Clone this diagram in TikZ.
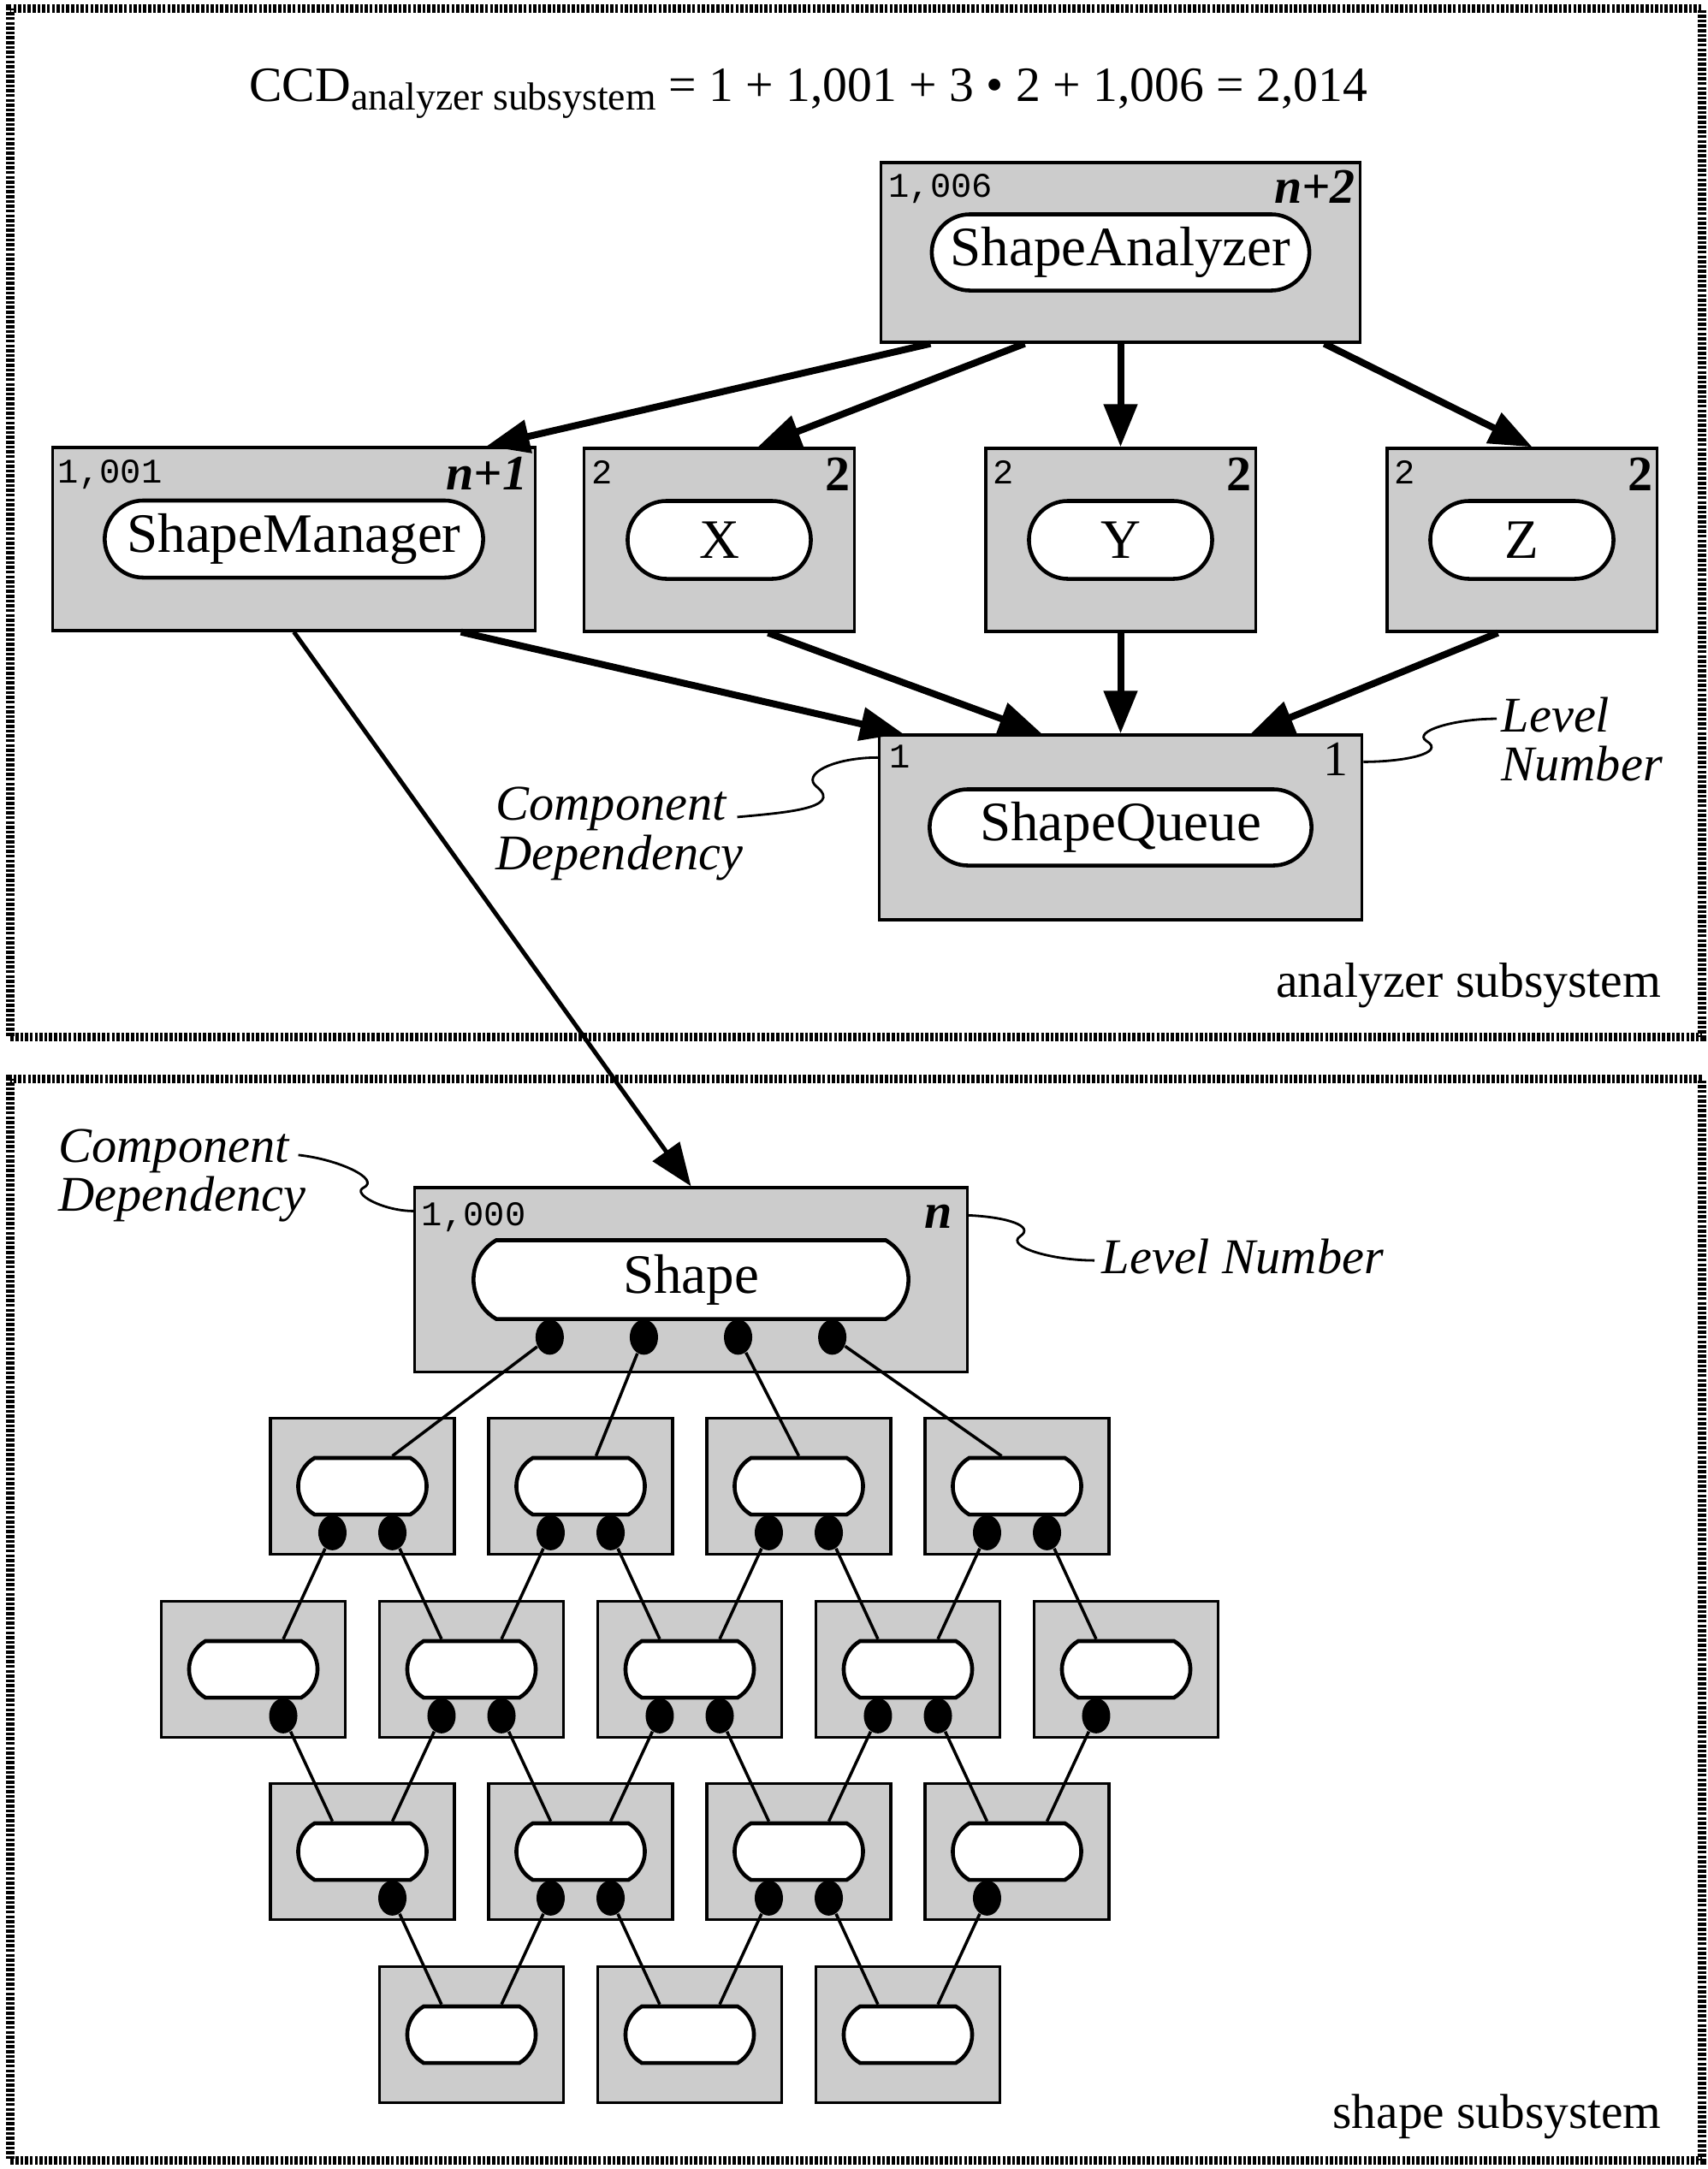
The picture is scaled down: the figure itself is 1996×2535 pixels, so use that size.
\documentclass[tikz,border=0pt]{standalone}
\usepackage{fontspec}
\setmainfont{Liberation Serif}
\setmonofont{Liberation Mono}
\usetikzlibrary{arrows.meta,shapes.misc,shapes.geometric}

\newcommand{\fsz}[1]{\fontsize{#1}{#1}\selectfont}

\begin{document}
\begin{tikzpicture}[x=0.01cm,y=-0.01cm,
  hatchframe/.style={draw,line width=0.1cm,dash pattern=on 1pt off 0.6pt,inner sep=0},
  cbox/.style={draw,line width=0.9pt,fill=black!20,inner sep=0},
  cpill/.style={draw,line width=1.3pt,fill=white,rounded rectangle,inner sep=0,font=\fsz{18.5}},
  minipill/.style={cpill,rounded rectangle arc length=120,minimum width=1.5cm,minimum height=0.66cm},
  cdot/.style={ellipse,fill=black,inner sep=0,minimum width=0.33cm,minimum height=0.41cm},
  deparrow/.style={-{Triangle[length=0.5cm,width=0.38cm]},line width=0.08cm},
  lattice/.style={line width=1pt},
  squiggle/.style={line width=0.8pt},
  ccdlbl/.style={font=\ttfamily\fsz{11.5},inner sep=0,anchor=north west},
  lvllbl/.style={font=\bfseries\itshape\fsz{16.5},inner sep=0,anchor=north east},
  notelbl/.style={font=\itshape\fsz{16.6},inner sep=0,anchor=base west}]

  \useasboundingbox (0,0) rectangle (1996,2535);

  % subsystem frames
  \node[hatchframe,minimum width=19.75cm,minimum height=12.02cm] (anlz) at (1000.5,611) {};
  \node[hatchframe,minimum width=19.75cm,minimum height=12.64cm] (shps) at (1000.5,1893) {};
  \node[font=\fsz{16.4},inner sep=0,anchor=base east] (anlzname) at (1942,1165) {analyzer subsystem};
  \node[font=\fsz{16.3},inner sep=0,anchor=base east] (shpsname) at (1942,2487) {shape subsystem};

  \node[font=\fsz{16.4},inner sep=0,anchor=base] (ccd) at (945,118)
    {CCD\raisebox{-3pt}{\fsz{13}analyzer subsystem} = 1 + 1,001 + 3 • 2 + 1,006 = 2,014};

  % analyzer subsystem
  \node[cbox,minimum width=5.6cm,minimum height=2.1cm] (sa) at (1309.5,295) {};
  \node[cpill,minimum width=4.41cm,minimum height=0.89cm] (sap) at (sa.center) {ShapeAnalyzer};
  \node[ccdlbl] (saccd) at ([xshift=0.1cm,yshift=-0.14cm]sa.north west) {1,006};
  \node[lvllbl] (salvl) at ([xshift=-0.07cm,yshift=-0.1cm]sa.north east) {n+2};

  \node[cbox,minimum width=5.63cm,minimum height=2.14cm] (sm) at (343.5,630) {};
  \node[cpill,minimum width=4.42cm,minimum height=0.9cm] (smp) at (sm.center) {ShapeManager};
  \node[ccdlbl] (smccd) at ([xshift=0.07cm,yshift=-0.15cm]sm.north west) {1,001};
  \node[lvllbl] (smlvl) at ([xshift=-0.1cm,yshift=-0.12cm]sm.north east) {n+1};

  \foreach \nm/\x/\txt in {cx/840.5/X,cy/1309.5/Y,cz/1778.5/Z}{
    \node[cbox,minimum width=3.15cm,minimum height=2.14cm] (\nm) at (\x,631) {};
    \node[cpill,minimum width=2.14cm,minimum height=0.91cm] (\nm p) at (\nm.center) {\txt};
    \node[ccdlbl] (\nm ccd) at ([xshift=0.09cm,yshift=-0.15cm]\nm.north west) {2};
    \node[lvllbl,font=\bfseries\fsz{16.5}] (\nm lvl) at ([xshift=-0.05cm,yshift=-0.12cm]\nm.north east) {2};
  }

  \node[cbox,minimum width=5.64cm,minimum height=2.16cm] (sq) at (1309.5,967) {};
  \node[cpill,minimum width=4.46cm,minimum height=0.89cm] (sqp) at (sq.center) {ShapeQueue};
  \node[ccdlbl] (sqccd) at ([xshift=0.13cm,yshift=-0.13cm]sq.north west) {1};
  \node[lvllbl,font=\fsz{16.5}] (sqlvl) at ([xshift=-0.17cm,yshift=-0.1cm]sq.north east) {1};

  \draw[deparrow] ([xshift=-2.22cm]sa.south) -- ([xshift=2.25cm]sm.north);
  \draw[deparrow] ([xshift=-1.12cm]sa.south) -- ([xshift=0.45cm]cx.north);
  \draw[deparrow] (sa.south) -- (cy.north);
  \draw[deparrow] ([xshift=2.38cm]sa.south) -- ([xshift=0.12cm]cz.north);
  \draw[deparrow] ([xshift=1.95cm]sm.south) -- ([xshift=-2.54cm]sq.north);
  \draw[deparrow] ([xshift=0.57cm]cx.south) -- ([xshift=-0.92cm]sq.north);
  \draw[deparrow] (cy.south) -- (sq.north);
  \draw[deparrow] ([xshift=-0.28cm]cz.south) -- ([xshift=1.52cm]sq.north);

  \node[notelbl] (cdq1) at (579,958) {Component};
  \node[notelbl] (cdq2) at (579,1016) {Dependency};
  \coordinate (cdqk) at (955,920);
  \draw[squiggle] ([xshift=0.12cm,yshift=-0.1cm]cdq1.east) .. controls +(54,-5) and +(30,25) .. (cdqk)
    .. controls +(-20,-15) and +(-52,0) .. ([yshift=-0.28cm]sq.north west);
  \node[notelbl] (lvq1) at (1754,855) {Level};
  \node[notelbl] (lvq2) at (1754,912) {Number};
  \coordinate (lvqk) at (1667,866);
  \draw[squiggle] ([yshift=-0.33cm]sq.north east) .. controls +(49,0) and +(23,14) .. (lvqk)
    .. controls +(-17,-11) and +(-50,0) .. ([xshift=-0.05cm,yshift=-0.05cm]lvq1.west);

  % shape subsystem
  \node[cbox,minimum width=6.45cm,minimum height=2.15cm] (shape) at (807.5,1495.5) {};
  \node[cpill,rounded rectangle arc length=120,minimum width=5.08cm,minimum height=0.92cm] (shapep) at (shape.center) {Shape};
  \node[ccdlbl] (shapeccd) at ([xshift=0.09cm,yshift=-0.18cm]shape.north west) {1,000};
  \node[lvllbl] (shapelvl) at ([xshift=-0.18cm,yshift=-0.21cm]shape.north east) {n};

  \draw[deparrow,line width=0.05cm] (sm.south) -- (shape.north);

  \node[notelbl] (cds1) at (68,1358) {Component};
  \node[notelbl] (cds2) at (68,1415) {Dependency};
  \coordinate (cdsk) at (425,1388);
  \draw[squiggle] ([xshift=0.1cm,yshift=-0.05cm]cds1.east) .. controls +(47,5) and +(20,-10) .. (cdsk)
    .. controls +(-15,7) and +(-35,0) .. ([yshift=-0.29cm]shape.north west);
  \node[notelbl] (lvs) at (1287,1488) {Level Number};
  \coordinate (lvsk) at (1192,1445);
  \draw[squiggle] ([yshift=-0.34cm]shape.north east) .. controls +(45,2) and +(18,-12) .. (lvsk)
    .. controls +(-17,12) and +(-50,0) .. ([xshift=-0.08cm,yshift=-0.05cm]lvs.west);

  \foreach \i in {1,...,4}{
    \node[cbox,minimum width=2.15cm,minimum height=1.59cm] (ba\i) at ({423.5+255*(\i-1)},1737) {};
    \node[minipill] (pa\i) at (ba\i.center) {};
    \node[cbox,minimum width=2.15cm,minimum height=1.59cm] (bc\i) at ({423.5+255*(\i-1)},2164) {};
    \node[minipill] (pc\i) at (bc\i.center) {};
  }
  \foreach \i in {1,...,5}{
    \node[cbox,minimum width=2.15cm,minimum height=1.59cm] (bb\i) at ({296+255*(\i-1)},1951) {};
    \node[minipill] (pb\i) at (bb\i.center) {};
  }
  \foreach \i in {1,...,3}{
    \node[cbox,minimum width=2.15cm,minimum height=1.59cm] (bd\i) at ({551+255*(\i-1)},2378) {};
    \node[minipill] (pd\i) at (bd\i.center) {};
  }

  % dots
  \foreach \i/\dx in {1/-1.65,2/-0.55,3/0.55,4/1.65}
    \node[cdot] (sd\i) at ([xshift=\dx cm,yshift=-0.19cm]shapep.south) {};
  \foreach \i in {1,...,4}{
    \node[cdot] (dal\i) at ([xshift=-0.35cm,yshift=-0.19cm]pa\i.south) {};
    \node[cdot] (dar\i) at ([xshift=0.35cm,yshift=-0.19cm]pa\i.south) {};
  }
  \foreach \i in {2,...,5}
    \node[cdot] (dbl\i) at ([xshift=-0.35cm,yshift=-0.19cm]pb\i.south) {};
  \foreach \i in {1,...,4}
    \node[cdot] (dbr\i) at ([xshift=0.35cm,yshift=-0.19cm]pb\i.south) {};
  \foreach \i in {2,...,4}
    \node[cdot] (dcl\i) at ([xshift=-0.35cm,yshift=-0.19cm]pc\i.south) {};
  \foreach \i in {1,...,3}
    \node[cdot] (dcr\i) at ([xshift=0.35cm,yshift=-0.19cm]pc\i.south) {};

  % uses
  \foreach \i/\dx in {1/0.35,2/0.18,3/0,4/-0.18}
    \draw[lattice] (sd\i) -- ([xshift=\dx cm]pa\i.north);
  \foreach \i in {1,...,4}{
    \pgfmathtruncatemacro{\j}{\i+1}
    \draw[lattice] (dal\i) -- ([xshift=0.35cm]pb\i.north);
    \draw[lattice] (dar\i) -- ([xshift=-0.35cm]pb\j.north);
  }
  \foreach \i in {1,...,4}
    \draw[lattice] (dbr\i) -- ([xshift=-0.35cm]pc\i.north);
  \foreach \i in {2,...,5}{
    \pgfmathtruncatemacro{\k}{\i-1}
    \draw[lattice] (dbl\i) -- ([xshift=0.35cm]pc\k.north);
  }
  \foreach \i in {1,...,3}
    \draw[lattice] (dcr\i) -- ([xshift=-0.35cm]pd\i.north);
  \foreach \i in {2,...,4}{
    \pgfmathtruncatemacro{\k}{\i-1}
    \draw[lattice] (dcl\i) -- ([xshift=0.35cm]pd\k.north);
  }
\end{tikzpicture}
\end{document}
